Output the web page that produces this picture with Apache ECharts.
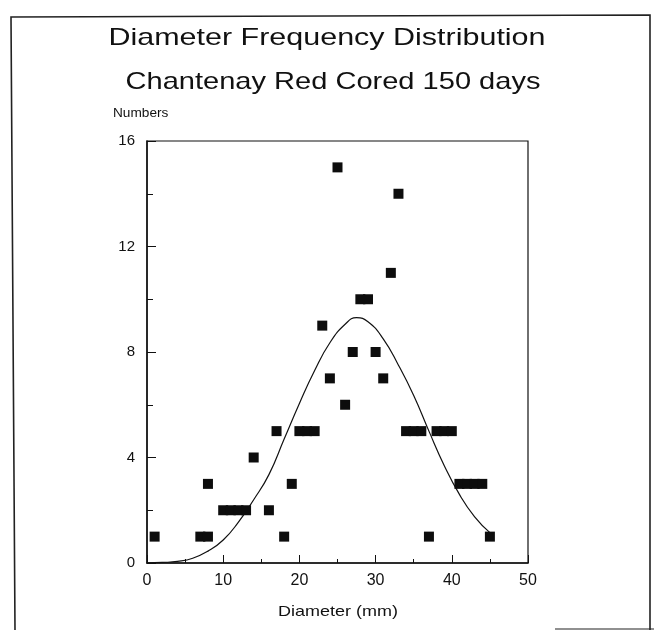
<!DOCTYPE html>
<html>
<head>
<meta charset="utf-8">
<script src="https://cdn.jsdelivr.net/npm/echarts@6/dist/echarts.min.js"></script>
<style>
  html, body { margin: 0; padding: 0; background: #fff; }
  #main { width: 654px; height: 630px; }
</style>
</head>
<body>
<div id="main"></div>
<script>
// observed counts per diameter (mm)
var diameters = [1, 7, 8, 8, 10, 11, 12, 13, 14, 16, 17, 18, 19, 20, 21, 22, 23, 24, 25, 26,
                 27, 28, 29, 30, 31, 32, 33, 34, 35, 36, 37, 38, 39, 40, 41, 42, 43, 44, 45];
var counts    = [1, 1, 1, 3, 2, 2, 2, 2, 4, 2, 5, 1, 3, 5, 5, 5, 9, 7, 15, 6,
                 8, 10, 10, 8, 7, 11, 14, 5, 5, 5, 1, 5, 5, 5, 3, 3, 3, 3, 1];

// fitted curve
var curveX = [0, 2, 4, 6, 8, 10, 12, 14, 16, 18, 20, 22, 24, 26, 27.5, 29, 31, 33, 35, 37, 39, 41, 43, 45];
var curveY = [0, 0.02, 0.06, 0.18, 0.45, 0.87, 1.55, 2.4, 3.35, 4.7, 6.05, 7.3, 8.35, 9.05, 9.3, 9.15, 8.5, 7.5, 6.35, 5.0, 3.7, 2.6, 1.75, 1.15];

var xTicks = [0, 10, 20, 30, 40, 50];
var yTicks = [0, 4, 8, 12, 16];

var points = diameters.map(function(d, i) { return [d, counts[i]]; });
var curve = curveX.map(function(x, i) { return [x, curveY[i]]; });

var myChart = echarts.init(document.getElementById('main'));
var font = 'Liberation Sans, Arial, sans-serif';

var option = {
	backgroundColor: '#fff',
	animation: false,
	grid: {
		left: 147,
		right: 126,
		top: 141,
		bottom: 67,
		show: true,
		borderColor: '#111',
		borderWidth: 1.2
	},
	xAxis: {
		type: 'value',
		min: xTicks[0],
		max: xTicks[xTicks.length - 1],
		interval: 10,
		splitLine: { show: false },
		axisLine: { lineStyle: { color: '#111', width: 1.5 } },
		axisTick: { inside: true, length: 8, lineStyle: { color: '#111' } },
		minorTick: { show: true, splitNumber: 2, length: 4, lineStyle: { color: '#111' } },
		axisLabel: { color: '#111', fontSize: 16, fontFamily: font, margin: 10 }
	},
	yAxis: {
		type: 'value',
		min: yTicks[0],
		max: yTicks[yTicks.length - 1],
		interval: 4,
		splitLine: { show: false },
		axisLine: { show: true, lineStyle: { color: '#111', width: 1.5 } },
		axisTick: { show: true, inside: true, length: 9, lineStyle: { color: '#111' } },
		minorTick: { show: true, splitNumber: 2, length: 6, lineStyle: { color: '#111' } },
		axisLabel: { color: '#111', fontSize: 15, fontFamily: font, margin: 12 }
	},
	graphic: [
		{ type: 'text', x: 327, y: 38, scaleX: 1.27,
		  style: { text: 'Diameter Frequency Distribution', font: '24px ' + font, fill: '#111', textAlign: 'center', textVerticalAlign: 'middle' } },
		{ type: 'text', x: 333, y: 82, scaleX: 1.21,
		  style: { text: 'Chantenay Red Cored 150 days', font: '24px ' + font, fill: '#111', textAlign: 'center', textVerticalAlign: 'middle' } },
		{ type: 'text', x: 113, y: 113, scaleX: 1.05,
		  style: { text: 'Numbers', font: '13px ' + font, fill: '#111', textAlign: 'left', textVerticalAlign: 'middle' } },
		{ type: 'text', x: 338, y: 612, scaleX: 1.2,
		  style: { text: 'Diameter (mm)', font: '15px ' + font, fill: '#111', textAlign: 'center', textVerticalAlign: 'middle' } },
		// scanned page frame
		{ type: 'polyline', shape: { points: [[15, 630], [11, 17], [650, 15], [650, 630]] },
		  style: { stroke: '#222', lineWidth: 1.6, fill: null } },
		{ type: 'line', shape: { x1: 555, y1: 629, x2: 654, y2: 629 },
		  style: { stroke: '#222', lineWidth: 1.2 } }
	],
	series: [
		{
			name: 'fit',
			type: 'line',
			data: curve,
			smooth: true,
			showSymbol: false,
			lineStyle: { color: '#111', width: 1.2 },
			z: 2
		},
		{
			name: 'observed',
			type: 'scatter',
			data: points,
			symbol: 'rect',
			symbolSize: 10,
			itemStyle: { color: '#0d0d0d', opacity: 1 },
			z: 3
		}
	]
};
myChart.setOption(option);
</script>
</body>
</html>
